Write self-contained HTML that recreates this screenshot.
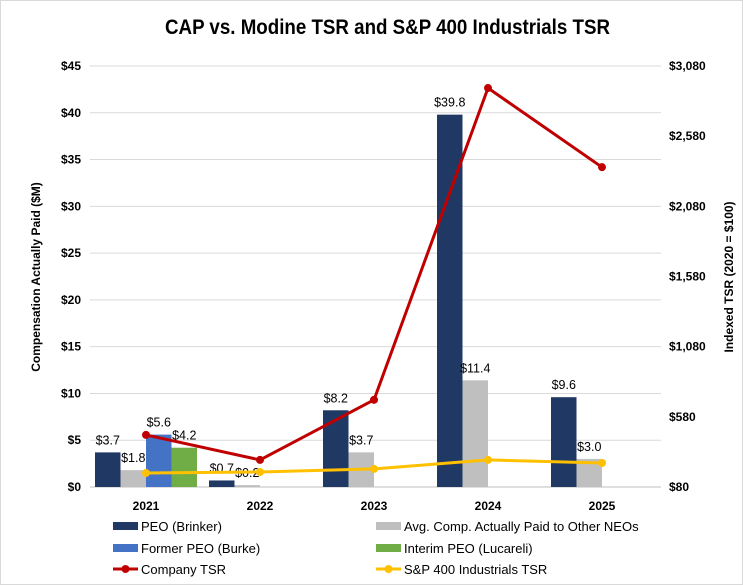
<!DOCTYPE html>
<html><head><meta charset="utf-8"><style>
body{margin:0;background:#fff}
#wrap{position:relative;width:741px;height:583px;border:1px solid #d9d9d9;overflow:hidden}
svg text{font-family:"Liberation Sans",sans-serif;fill:#000}
</style></head><body>
<div id="wrap">
<svg id="chart" width="741" height="583"></svg>
</div>
<script>
const categories=["2021","2022","2023","2024","2025"];
const peoBrinker=[3.7,0.7,8.2,39.8,9.6];
const otherNeos=[1.8,0.2,3.7,11.4,3.0];
const formerPeoBurke=[5.6,null,null,null,null];
const interimPeo=[4.2,null,null,null,null];
const companyTsr=[451,273,701,2923,2359];
const spTsr=[180,187,209,273,251];
const leftTicks=[0,5,10,15,20,25,30,35,40,45];
const rightTicks=[80,580,1080,1580,2080,2580,3080];

const NS="http://www.w3.org/2000/svg";
const svg=document.getElementById('chart');
function mk(tag,attrs,parent){const e=document.createElementNS(NS,tag);for(const k in attrs)e.setAttribute(k,attrs[k]);(parent||svg).appendChild(e);return e;}
const X0=89,X1=660,YB=486,YT=65;
const yL=v=>YB-(v/45)*(YB-YT);
const yR=v=>YB-((v-80)/3000)*(YB-YT);
const xC=i=>145+114*i;
const BW=25.5;

let t=mk('text',{x:164,y:33,'font-size':21,'font-weight':'bold',textLength:445,lengthAdjust:'spacingAndGlyphs'});
t.textContent="CAP vs. Modine TSR and S&P 400 Industrials TSR";



leftTicks.forEach(v=>{
  const g=mk('line',{x1:X0,x2:X1,y1:yL(v),y2:yL(v),stroke:v===0?'#bfbfbf':'#d9d9d9','stroke-width':1});
  
  
  const l=mk('text',{x:80,y:yL(v)+4,'text-anchor':'end','font-size':12,'font-weight':'bold'});
  l.textContent='$'+v;
  
  
});
rightTicks.forEach(v=>{
  const l=mk('text',{x:668,y:yR(v)+4,'font-size':12,'font-weight':'bold'});
  l.textContent='$'+v.toLocaleString('en-US');
  
  
});
categories.forEach((c,i)=>{
  const l=mk('text',{x:xC(i),y:509,'text-anchor':'middle','font-size':12,'font-weight':'bold'});
  l.textContent=c;
  
  
});
let yt=mk('text',{x:0,y:0,'text-anchor':'middle','font-size':12,'font-weight':'bold',transform:'translate(39,276) rotate(-90)'});
yt.textContent="Compensation Actually Paid ($M)";


let yt2=mk('text',{x:0,y:0,'text-anchor':'middle','font-size':12,'font-weight':'bold',transform:'translate(732,276) rotate(-90)'});
yt2.textContent="Indexed TSR (2020 = $100)";



const series=[[peoBrinker,'#1f3864','bar-peo-brinker'],[otherNeos,'#bfbfbf','bar-other-neos'],[formerPeoBurke,'#4472c4','bar-former-peo'],[interimPeo,'#70ad47','bar-interim-peo']];
series.forEach(([arr,col,name],s)=>{
  arr.forEach((v,i)=>{
    if(v===null)return;
    const x=xC(i)-51+BW*s;
    const r=mk('rect',{x:x,y:yL(v),width:BW,height:YB-yL(v),fill:col});
    
    
    const l=mk('text',{x:x+BW/2,y:yL(v)-8,'text-anchor':'middle','font-size':12.5});
    l.textContent='$'+v.toFixed(1);
    
    
  });
});
function drawLine(arr,col,name){
  const p=mk('polyline',{points:arr.map((v,i)=>xC(i)+','+yR(v)).join(' '),fill:'none',stroke:col,'stroke-width':3});
  
  
  arr.forEach((v,i)=>{
    const c=mk('circle',{cx:xC(i),cy:yR(v),r:4,fill:col});
    
    
  });
}
drawLine(spTsr,'#ffc000','sp400-tsr');
drawLine(companyTsr,'#c00000','company-tsr');

const legend=[["PEO (Brinker)",'#1f3864','rect',112,525],["Avg. Comp. Actually Paid to Other NEOs",'#bfbfbf','rect',375,525],
["Former PEO (Burke)",'#4472c4','rect',112,547],["Interim PEO (Lucareli)",'#70ad47','rect',375,547],
["Company TSR",'#c00000','line',112,568],["S&P 400 Industrials TSR",'#ffc000','line',375,568]];
legend.forEach(([txt,col,type,x,y])=>{
  const g=mk('g',{});
  
  
  if(type==='rect')mk('rect',{x:x,y:y-4,width:25,height:8,fill:col},g);
  else{mk('line',{x1:x,x2:x+25,y1:y,y2:y,stroke:col,'stroke-width':3},g);mk('circle',{cx:x+12.5,cy:y,r:4,fill:col},g);}
  const l=mk('text',{x:x+28,y:y+5,'font-size':13},g);
  l.textContent=txt;
});
</script>
</body></html>
